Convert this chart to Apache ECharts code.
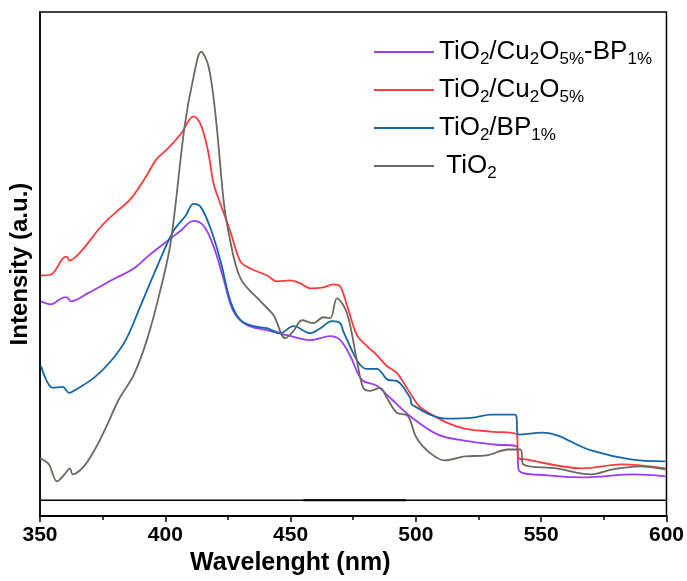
<!DOCTYPE html>
<html>
<head>
<meta charset="utf-8">
<script src="https://cdn.jsdelivr.net/npm/echarts@6/dist/echarts.min.js"></script>
<style>
  html, body { margin: 0; padding: 0; background: #fff; }
  #chart { width: 687px; height: 581px; }
</style>
</head>
<body>
<div id="chart"></div>
<script>
// series names (legend order)
const names = ['TiO2/Cu2O5%-BP1%', 'TiO2/Cu2O5%', 'TiO2/BP1%', 'TiO2'];
const colors = ['#9b3cff', '#ff3b3b', '#1466a8', '#6e6862'];
// x ticks
const xTicks = [350, 400, 450, 500, 550, 600];

// [wavelength nm, intensity a.u.]
const cuBp = [
  [350.4, 216], [354.4, 213], [359.7, 220], [360.7, 220], [362.3, 216], [369.0, 224],
  [378.3, 237], [387.4, 249], [392.9, 261], [399.4, 274], [406.1, 287], [411.2, 297],
  [415.3, 292], [419.3, 271], [423.2, 239], [427.2, 206], [432.7, 192], [440.6, 187],
  [448.6, 182], [457.9, 177], [465.8, 181], [469.8, 177], [473.8, 161], [478.5, 137],
  [484.4, 131], [489.7, 119], [498.5, 99], [508.8, 82], [519.4, 76], [531.5, 72],
  [540.3, 70], [541.1, 46], [552.6, 41], [566.6, 39], [587.3, 42], [599.6, 40]
];
const cu = [
  [350.4, 242], [354.4, 243], [359.0, 259], [360.7, 261], [361.7, 257], [366.3, 266],
  [374.3, 291], [380.9, 307], [386.2, 319], [392.2, 341], [396.5, 359], [400.8, 369],
  [406.1, 384], [411.3, 402], [414.1, 394], [416.9, 369], [419.3, 334], [421.3, 319],
  [426.0, 286], [430.0, 256], [434.0, 249], [440.6, 242], [444.6, 236], [449.9, 237],
  [453.9, 234], [457.9, 229], [463.1, 230], [467.0, 233], [469.8, 231], [472.5, 212],
  [476.5, 182], [480.5, 171], [484.4, 162], [488.4, 151], [492.4, 144], [498.9, 119],
  [502.0, 109], [512.4, 94], [519.4, 88], [529.9, 85], [540.3, 82], [540.8, 59],
  [543.9, 57], [566.6, 48], [582.1, 52], [599.6, 48]
];
const bp = [
  [350.4, 151], [355.1, 129], [359.0, 130], [361.7, 124], [363.5, 126], [371.5, 139],
  [378.3, 156], [384.2, 177], [390.2, 212], [396.9, 252], [403.3, 287], [408.1, 302],
  [411.2, 314], [414.1, 311], [418.1, 289], [422.1, 256], [426.0, 216], [430.0, 197],
  [435.2, 191], [440.6, 189], [445.9, 184], [451.1, 191], [457.9, 184], [461.9, 189],
  [466.5, 196], [469.8, 194], [471.0, 186], [475.0, 164], [477.8, 152], [480.5, 148],
  [484.4, 148], [488.9, 137], [492.4, 136], [497.7, 119], [498.5, 112], [512.4, 98],
  [522.8, 99], [529.9, 102], [539.5, 102], [541.1, 82], [550.6, 84], [570.0, 66],
  [585.7, 57], [599.6, 55]
];
const tio2 = [
  [350.0, 58], [351.0, 57], [353.6, 52], [356.8, 35], [359.8, 42], [361.9, 48],
  [363.1, 42], [367.5, 50], [371.9, 67], [376.3, 89], [381.4, 117], [387.4, 142],
  [392.9, 179], [398.2, 229], [402.2, 276], [407.7, 392], [411.3, 442], [414.3, 467],
  [417.3, 452], [420.1, 402], [423.2, 319], [425.2, 286], [430.0, 239], [438.0, 216],
  [443.2, 202], [447.9, 179], [451.1, 186], [454.6, 197], [459.1, 194], [463.1, 200],
  [465.8, 199], [468.5, 219], [472.5, 204], [476.5, 156], [479.0, 129], [481.8, 126],
  [485.7, 129], [488.4, 119], [492.4, 104], [496.7, 101], [500.2, 79], [505.4, 64],
  [511.5, 56], [519.4, 60], [528.1, 61], [536.8, 67], [541.7, 67], [542.9, 52],
  [556.0, 48], [570.0, 42], [578.7, 47], [589.2, 50], [599.6, 47]
];
// flat reference line near the bottom
const baseline = [[350, 16], [600, 16]];
const baselineThick = [[455, 16], [496, 16]];

const richLabel = {
  'TiO2/Cu2O5%-BP1%': '{n|TiO}{s|2}{n|/Cu}{s|2}{n|O}{s|5%}{n|-BP}{s|1%}',
  'TiO2/Cu2O5%': '{n|TiO}{s|2}{n|/Cu}{s|2}{n|O}{s|5%}',
  'TiO2/BP1%': '{n|TiO}{s|2}{n|/BP}{s|1%}',
  'TiO2': '{n| TiO}{s|2}'
};

const chart = echarts.init(document.getElementById('chart'));
const allData = [cuBp, cu, bp, tio2];

let series = names.map(function (nm, i) {
  return {
    name: nm,
    type: 'line',
    data: allData[i],
    symbol: 'none',
    smooth: 0.35,
    lineStyle: { width: 1.8, color: colors[i] },
    itemStyle: { color: colors[i] }
  };
});
series.push({
  name: 'base', type: 'line', data: baseline, symbol: 'none',
  lineStyle: { width: 1.5, color: '#000' }, silent: true
});
series.push({
  name: 'base2', type: 'line', data: baselineThick, symbol: 'none',
  lineStyle: { width: 2, color: '#000' }, silent: true
});

const option = {
  backgroundColor: '#fff',
  animation: false,
  grid: {
    left: 39, right: 20, top: 12, bottom: 62,
    show: true, borderColor: '#000', borderWidth: 1.5
  },
  legend: {
    data: names,
    orient: 'vertical',
    left: 369,
    top: 31,
    itemWidth: 60,
    itemHeight: 2,
    itemGap: 6,
    icon: 'rect',
    formatter: function (nm) { return richLabel[nm]; },
    textStyle: {
      fontFamily: 'Liberation Sans',
      rich: {
        n: { fontSize: 26, color: '#000', fontFamily: 'Liberation Sans', lineHeight: 30 },
        s: { fontSize: 17, color: '#000', fontFamily: 'Liberation Sans', lineHeight: 30, padding: [15, 0, 0, 0] }
      }
    }
  },
  xAxis: {
    type: 'value',
    min: 350,
    max: 600,
    interval: 50,
    name: 'Wavelenght (nm)',
    nameLocation: 'middle',
    nameGap: 33,
    nameTextStyle: {
      fontFamily: 'Liberation Sans', fontWeight: 'bold', fontSize: 25, color: '#000',
      padding: [0, 126, 0, 0]
    },
    axisLine: { show: true, lineStyle: { color: '#000', width: 2 } },
    axisTick: { show: true, inside: false, length: 6, lineStyle: { color: '#000', width: 1.5 } },
    minorTick: { show: true, splitNumber: 2, length: 4, lineStyle: { color: '#000', width: 1.5 } },
    axisLabel: {
      margin: 9,
      fontFamily: 'Liberation Sans', fontWeight: 'bold', fontSize: 21, color: '#000',
      customValues: xTicks
    },
    splitLine: { show: false }
  },
  yAxis: {
    type: 'value',
    min: 0,
    max: 507,
    name: 'Intensity (a.u.)',
    nameLocation: 'middle',
    nameGap: 8,
    nameTextStyle: { fontFamily: 'Liberation Sans', fontWeight: 'bold', fontSize: 24, color: '#000' },
    axisLine: { show: true, lineStyle: { color: '#000', width: 1.5 } },
    axisTick: { show: false },
    axisLabel: { show: false },
    splitLine: { show: false }
  },
  series: series
};
chart.setOption(option);
</script>
</body>
</html>
